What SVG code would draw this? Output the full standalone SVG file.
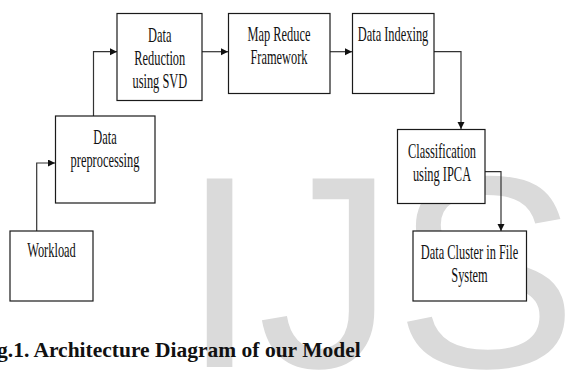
<svg xmlns="http://www.w3.org/2000/svg" width="567" height="374" viewBox="0 0 567 374">
<style>
.box{fill:#fff;stroke:#1a1a1a;stroke-width:1.2}
.lbl{font-family:"Liberation Serif","Times New Roman",serif;font-size:20px;fill:#111;text-anchor:middle}
.conn{fill:none;stroke:#333;stroke-width:1.2}
.wm{font-family:"Liberation Sans",Arial,sans-serif;font-size:274px;fill:#dadada}
.cap{font-family:"Liberation Serif","Times New Roman",serif;font-size:21.5px;font-weight:bold;fill:#111}
</style>
<defs>
<marker id="ah" markerUnits="userSpaceOnUse" markerWidth="8" markerHeight="8" refX="7" refY="3.5" orient="auto">
<path d="M0,0 L7,3.5 L0,7 z" fill="#111"/>
</marker>
</defs>
<text class="wm" x="181.5" y="367">IJS</text>
<text class="cap" x="-3" y="357">g.1. Architecture Diagram of our Model</text>
<g id="connectors">
<path class="conn" d="M36.7,231 V163 H55" marker-end="url(#ah)"/>
<path class="conn" d="M93.5,116 V51.7 H117" marker-end="url(#ah)"/>
<path class="conn" d="M202,51.7 H228" marker-end="url(#ah)"/>
<path class="conn" d="M330,51.7 H352" marker-end="url(#ah)"/>
<path class="conn" d="M434,51.7 H461 V129" marker-end="url(#ah)"/>
<path class="conn" d="M485,171.7 H501 V231" marker-end="url(#ah)"/>
</g>
<g id="workload">
<rect class="box" x="10" y="231" width="83" height="70"/>
<text class="lbl" transform="matrix(0.62 0 0 1 51.5 0)"><tspan x="0" y="257">Workload</tspan></text>
</g>
<g id="preprocessing">
<rect class="box" x="55.5" y="116" width="99.5" height="87"/>
<text class="lbl" transform="matrix(0.62 0 0 1 105 0)"><tspan x="0" y="144">Data</tspan><tspan x="0" y="167">preprocessing</tspan></text>
</g>
<g id="reduction">
<rect class="box" x="117" y="13.5" width="85" height="87"/>
<text class="lbl" transform="matrix(0.62 0 0 1 159.8 0)"><tspan x="0" y="42">Data</tspan><tspan x="0" y="65">Reduction</tspan><tspan x="0" y="88">using SVD</tspan></text>
</g>
<g id="mapreduce">
<rect class="box" x="228.5" y="13.5" width="101.5" height="80"/>
<text class="lbl" transform="matrix(0.62 0 0 1 279 0)"><tspan x="0" y="41">Map Reduce</tspan><tspan x="0" y="64">Framework</tspan></text>
</g>
<g id="indexing">
<rect class="box" x="352.5" y="13.5" width="81.5" height="80"/>
<text class="lbl" transform="matrix(0.62 0 0 1 393 0)"><tspan x="0" y="41">Data Indexing</tspan></text>
</g>
<g id="classification">
<rect class="box" x="397.5" y="129.5" width="87.5" height="74"/>
<text class="lbl" transform="matrix(0.62 0 0 1 442 0)"><tspan x="0" y="158">Classification</tspan><tspan x="0" y="181">using IPCA</tspan></text>
</g>
<g id="cluster">
<rect class="box" x="413" y="231" width="113.5" height="70"/>
<text class="lbl" transform="matrix(0.62 0 0 1 469.5 0)"><tspan x="0" y="259">Data Cluster in File</tspan><tspan x="0" y="282">System</tspan></text>
</g>
</svg>
